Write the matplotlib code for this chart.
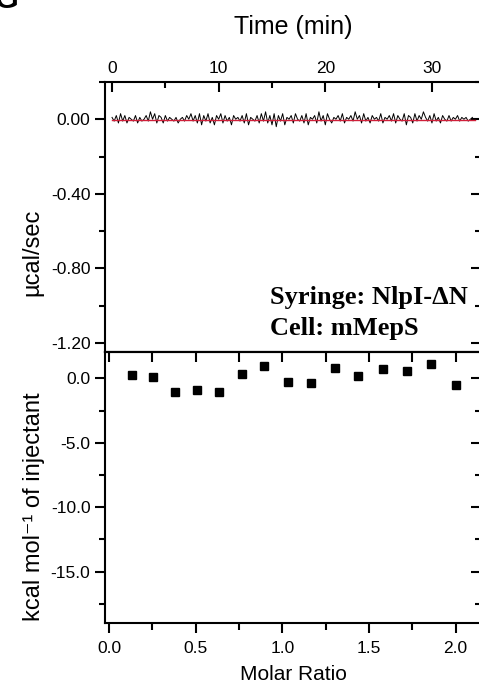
import matplotlib
matplotlib.use("Agg")
import matplotlib.pyplot as plt
from matplotlib.ticker import MultipleLocator, FormatStrFormatter
import numpy as np

# raw ITC trace (ucal/sec), sampled every 0.2 min
power = [
    0.01, -0.01, 0.02, -0.02, 0.03, -0.01, 0.02, -0.02, 0.01, 0.00,
    -0.01, 0.02, -0.02, 0.01, -0.01, 0.00, 0.02, -0.01, 0.04, 0.00,
    0.03, -0.02, 0.02, 0.01, -0.02, 0.02, -0.01, 0.01, 0.00, -0.01,
    0.01, -0.02, 0.00, 0.01, -0.01, 0.02, 0.00, 0.03, -0.01, 0.02,
    -0.02, 0.03, -0.03, 0.02, -0.01, 0.03, -0.02, 0.01, -0.03, 0.02,
    0.00, 0.03, -0.02, 0.02, -0.01, 0.01, -0.03, 0.02, 0.00, 0.01,
    -0.01, 0.02, -0.02, 0.03, -0.03, 0.01, 0.00, -0.01, 0.02, -0.02,
    0.03, -0.01, 0.04, -0.02, 0.02, -0.03, 0.03, -0.04, 0.02, -0.01,
    0.03, -0.03, 0.01, 0.00, 0.02,
    -0.02, 0.03, 0.00, -0.01, 0.02, -0.02, 0.03, -0.03, 0.01, 0.00,
    0.02, -0.02, 0.04, -0.01, 0.02, -0.03, 0.03, 0.00, -0.02, 0.01,
    0.00, 0.02, -0.01, 0.03, -0.02, 0.01, 0.00, 0.02, -0.01, 0.04,
    0.00, 0.02, -0.02, 0.03, -0.01, 0.01, -0.02, 0.02, 0.00, 0.01,
    -0.01, 0.03, -0.02, 0.01, 0.00,
    0.02, -0.01, 0.03, -0.02, 0.02, 0.00, -0.01, 0.03, -0.03, 0.02,
    0.01, -0.02, 0.03, -0.01, 0.02, 0.00, 0.04, 0.01, -0.01, 0.02,
    -0.02, 0.03, -0.01, 0.01, -0.02, 0.02, 0.00, -0.01, 0.02, -0.01,
    0.01, 0.00, 0.02, -0.01, 0.01, 0.00, 0.01, -0.01, 0.00, 0.01,
]
time = np.arange(len(power)) * 0.2

baseline_t = [0.0, 34.0]
baseline_y = [-0.005, -0.005]

# integrated heats
molar_ratio = [0.131, 0.254, 0.379, 0.508, 0.635, 0.766, 0.896, 1.031,
               1.164, 1.302, 1.439, 1.579, 1.718, 1.858, 2.002]
heat = [0.26, 0.10, -1.03, -0.88, -1.03, 0.36, 0.95, -0.28,
        -0.34, 0.82, 0.15, 0.72, 0.59, 1.11, -0.49]

plt.rcParams['font.family'] = ['Liberation Sans', 'DejaVu Sans']

W, H = 479, 688
fig = plt.figure(figsize=(W / 100, H / 100), dpi=100)

L, R = 105 / W, 481 / W
top1, mid, bot2 = 82, 351.7, 623.3
ax1 = fig.add_axes([L, 1 - mid / H, R - L, (mid - top1) / H])
ax2 = fig.add_axes([L, 1 - bot2 / H, R - L, (bot2 - mid) / H])

for ax in (ax1, ax2):
    for s in ax.spines.values():
        s.set_linewidth(1.5)

# top panel
ax1.plot(time, power, color='black', lw=0.7)
ax1.plot(baseline_t, baseline_y, color='#d0203a', lw=1.0)
ax1.set_xlim(-0.66, 34.6)
ax1.set_ylim(-1.248, 0.2)
ax1.xaxis.set_major_locator(MultipleLocator(10))
ax1.xaxis.set_minor_locator(MultipleLocator(5))
ax1.yaxis.set_major_locator(MultipleLocator(0.4))
ax1.yaxis.set_minor_locator(MultipleLocator(0.2))
ax1.yaxis.set_major_formatter(FormatStrFormatter('%.2f'))
ax1.xaxis.tick_top()
ax1.xaxis.set_label_position('top')
ax1.tick_params(axis='x', which='both', direction='in', top=True, bottom=False,
                labelsize=12.5, width=1.5, pad=4)
ax1.tick_params(axis='x', which='major', length=7)
ax1.tick_params(axis='x', which='minor', length=4)
ax1.tick_params(axis='y', which='both', direction='out', left=True, right=False,
                labelsize=12.5, width=1.5)
ax1.tick_params(axis='y', which='major', length=7)
ax1.tick_params(axis='y', which='minor', length=4)
ax1.set_xlabel('Time (min)', fontsize=18, labelpad=20)
ax1.set_ylabel('µcal/sec', fontsize=17)
ax1.yaxis.set_label_coords(-0.165, 0.37)

# right-side inward ticks
for ax in (ax1, ax2):
    tw = ax.secondary_yaxis('right')
    tw.tick_params(axis='y', which='both', direction='in', labelright=False, width=1.5)
    tw.tick_params(axis='y', which='major', length=7)
    tw.tick_params(axis='y', which='minor', length=4)
    tw.spines['right'].set_linewidth(1.5)
    if ax is ax1:
        tw.yaxis.set_major_locator(MultipleLocator(0.4))
        tw.yaxis.set_minor_locator(MultipleLocator(0.2))
    else:
        tw.yaxis.set_major_locator(MultipleLocator(5))
        tw.yaxis.set_minor_locator(MultipleLocator(2.5))

serif = ['Liberation Serif', 'DejaVu Serif']
ax1.text(0.44, 0.177, 'Syringe: NlpI-ΔN', transform=ax1.transAxes,
         family=serif, fontweight='bold', fontsize=19, va='baseline', ha='left')
ax1.text(0.44, 0.062, 'Cell: mMepS', transform=ax1.transAxes,
         family=serif, fontweight='bold', fontsize=19, va='baseline', ha='left')

# bottom panel
ax2.plot(molar_ratio, heat, 's', color='black', ms=6)
ax2.set_xlim(-0.023, 2.147)
ax2.set_ylim(-19, 2.06)
ax2.xaxis.set_major_locator(MultipleLocator(0.5))
ax2.xaxis.set_minor_locator(MultipleLocator(0.25))
ax2.xaxis.set_major_formatter(FormatStrFormatter('%.1f'))
ax2.yaxis.set_major_locator(MultipleLocator(5))
ax2.yaxis.set_minor_locator(MultipleLocator(2.5))
ax2.yaxis.set_major_formatter(FormatStrFormatter('%.1f'))
ax2.tick_params(axis='x', which='both', direction='out', bottom=True,
                labelsize=12.5, width=1.5, pad=6)
ax2.tick_params(axis='x', which='major', length=7)
ax2.tick_params(axis='x', which='minor', length=5)
ax2.tick_params(axis='y', which='both', direction='out', left=True, right=False,
                labelsize=12.5, width=1.5)
ax2.tick_params(axis='y', which='major', length=7)
ax2.tick_params(axis='y', which='minor', length=4)
tx = ax2.secondary_xaxis('top')
tx.xaxis.set_major_locator(MultipleLocator(0.25))
tx.tick_params(axis='x', direction='in', length=7, width=1.5, labeltop=False)
tx.spines['top'].set_linewidth(1.5)
ax2.set_xlabel('Molar Ratio', fontsize=15, labelpad=6)
ax2.set_ylabel('kcal mol⁻¹ of injectant', fontsize=17)
ax2.yaxis.set_label_coords(-0.16, 0.43)

# cropped panel letter
fig.text(-0.012, 1.0, 'G', fontsize=22, fontweight='bold', va='center', ha='left')

fig.savefig('out.png', dpi=100)
